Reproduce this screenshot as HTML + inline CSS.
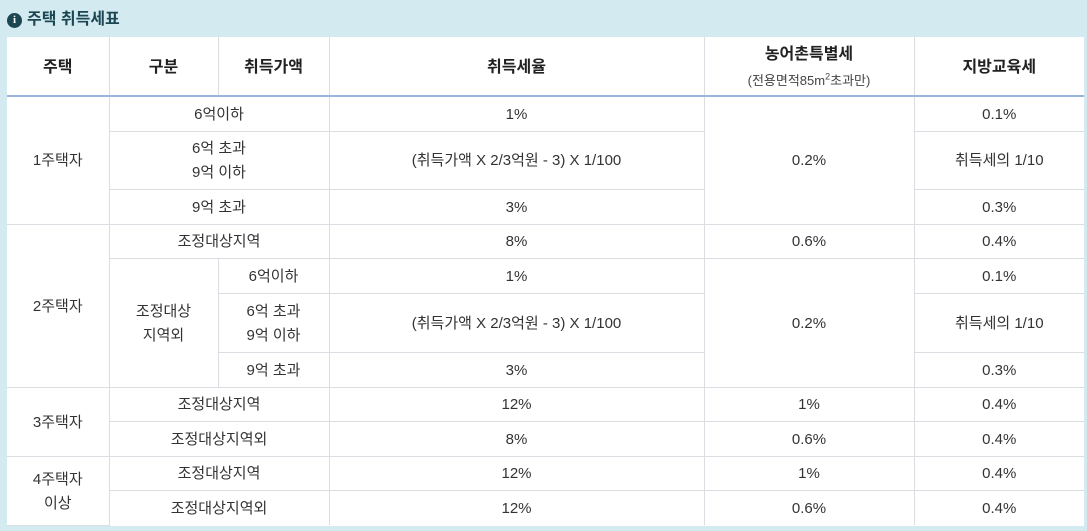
<!DOCTYPE html>
<html><head><meta charset="utf-8"><style>
body{margin:0;width:1087px;height:531px;background:#d3ebf0;font-family:"Liberation Sans","Noto Sans CJK KR",sans-serif;overflow:hidden;position:relative}
.title{position:absolute;left:7px;top:8px;height:24px;line-height:24px;font-size:16px;font-weight:bold;color:#1d4653;display:flex;align-items:center}
.title .i{width:15px;height:15px;border-radius:50%;background:#1d4653;color:#fff;font-size:11px;line-height:15px;text-align:center;margin-right:5px;font-family:"Liberation Serif",serif}
table{position:absolute;left:7px;top:37px;width:1077px;border-collapse:collapse;table-layout:fixed;background:#fff}
td,th{border:1px solid #dcdde3;text-align:center;font-size:15px;color:#333;padding:2px 0 0 0;line-height:24px}
th{font-weight:bold;font-size:16px;color:#222;border-top:none;border-bottom:2px solid #9ab4e0;padding-top:4px}
tr>*:first-child{border-left:none}
tr>*:last-child{border-right:none}
tr:last-child td{border-bottom:none}
.s{font-size:13px;font-weight:normal;color:#444;line-height:20px}
</style></head><body>
<div class="title"><span class="i">i</span>주택 취득세표</div>
<table>
<colgroup><col style="width:102px"><col style="width:109px"><col style="width:111px"><col style="width:375px"><col style="width:210px"><col style="width:170px"></colgroup>
<tr style="height:59px"><th>주택</th><th>구분</th><th>취득가액</th><th>취득세율</th><th>농어촌특별세<br><span class="s">(전용면적85m<sup style="font-size:9px">2</sup>초과만)</span></th><th>지방교육세</th></tr>
<tr style="height:35px"><td rowspan="3">1주택자</td><td colspan="2">6억이하</td><td>1%</td><td rowspan="3">0.2%</td><td>0.1%</td></tr>
<tr style="height:58px"><td colspan="2">6억 초과<br>9억 이하</td><td>(취득가액 X 2/3억원 - 3) X 1/100</td><td>취득세의 1/10</td></tr>
<tr style="height:35px"><td colspan="2">9억 초과</td><td>3%</td><td>0.3%</td></tr>
<tr style="height:34px"><td rowspan="4">2주택자</td><td colspan="2">조정대상지역</td><td>8%</td><td>0.6%</td><td>0.4%</td></tr>
<tr style="height:35px"><td rowspan="3">조정대상<br>지역외</td><td>6억이하</td><td>1%</td><td rowspan="3">0.2%</td><td>0.1%</td></tr>
<tr style="height:59px"><td>6억 초과<br>9억 이하</td><td>(취득가액 X 2/3억원 - 3) X 1/100</td><td>취득세의 1/10</td></tr>
<tr style="height:35px"><td>9억 초과</td><td>3%</td><td>0.3%</td></tr>
<tr style="height:34px"><td rowspan="2">3주택자</td><td colspan="2">조정대상지역</td><td>12%</td><td>1%</td><td>0.4%</td></tr>
<tr style="height:35px"><td colspan="2">조정대상지역외</td><td>8%</td><td>0.6%</td><td>0.4%</td></tr>
<tr style="height:34px"><td rowspan="2">4주택자<br>이상</td><td colspan="2">조정대상지역</td><td>12%</td><td>1%</td><td>0.4%</td></tr>
<tr style="height:35px"><td colspan="2">조정대상지역외</td><td>12%</td><td>0.6%</td><td>0.4%</td></tr>
</table>
</body></html>
